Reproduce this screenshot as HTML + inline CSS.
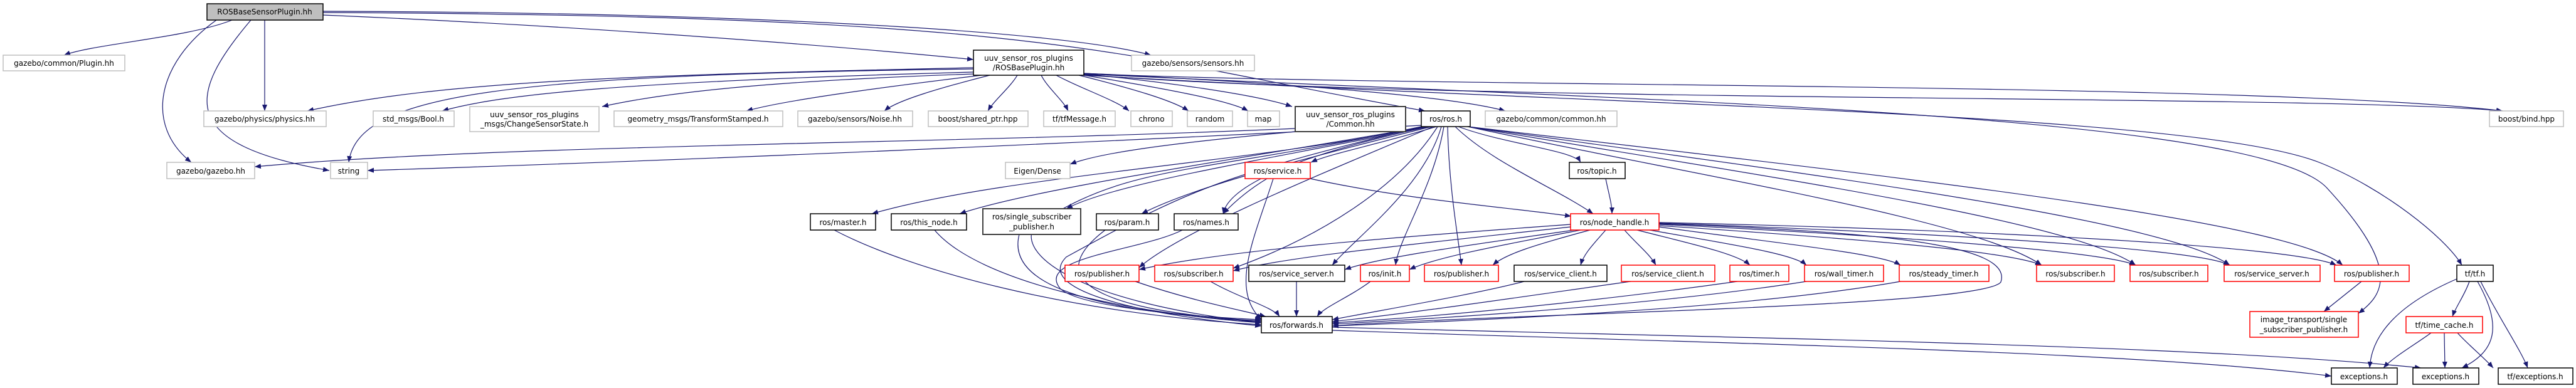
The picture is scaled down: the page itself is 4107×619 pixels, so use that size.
<!DOCTYPE html>
<html><head><meta charset="utf-8"><style>
html,body{margin:0;padding:0;background:#fff;}
svg{display:block;}
text{font-family:"DejaVu Sans","Liberation Sans",sans-serif;font-size:12px;fill:#000;text-anchor:middle;}
.e{fill:none;stroke:#191970;stroke-width:1.2;marker-end:url(#a);}
.g{fill:#fff;stroke:#bfbfbf;stroke-width:1.5;}
.b{fill:#fff;stroke:#000;stroke-width:1.5;}
.d{fill:#fff;stroke:#404040;stroke-width:2;}
.r{fill:#fff;stroke:#ff0000;stroke-width:1.5;}
</style></head><body>
<svg width="4107" height="619" viewBox="0 0 4107 619" xmlns="http://www.w3.org/2000/svg">
<defs><marker id="a" markerUnits="userSpaceOnUse" markerWidth="11" markerHeight="8" refX="10" refY="4" orient="auto"><path d="M0,0 L10,4 L0,8 z" fill="#191970"/></marker></defs>
<g>
<!-- root edges -->
<path class="e" d="M370 32 C300 60,150 70,102 88"/>
<path class="e" d="M422 32 L422 177"/>
<path class="e" d="M345 32 C250 100,230 200,305 259"/>
<path class="e" d="M400 32 C300 150,280 230,525 272"/>
<path class="e" d="M515 24 C900 40,1300 70,1552 95"/>
<path class="e" d="M515 18 C1200 20,1700 50,1835 88"/>
<path class="e" d="M515 20 C1700 25,1780 90,2272 177"/>
<!-- ROSBasePlugin edges -->
<path class="e" d="M1552 108 C1000 120,700 130,490 177"/>
<path class="e" d="M1552 110 C800 120,570 150,556 259"/>
<path class="e" d="M1552 115 C1000 130,800 150,705 177"/>
<path class="e" d="M1552 118 C1200 130,1050 150,960 170"/>
<path class="e" d="M1565 120 C1400 140,1250 160,1190 177"/>
<path class="e" d="M1578 120 C1500 140,1430 160,1410 177"/>
<path class="e" d="M1622 120 C1610 140,1585 160,1575 177"/>
<path class="e" d="M1660 120 C1670 140,1695 160,1703 177"/>
<path class="e" d="M1684 120 C1720 140,1780 160,1800 177"/>
<path class="e" d="M1720 120 C1800 140,1870 160,1895 177"/>
<path class="e" d="M1728 120 C1850 140,1960 160,1990 177"/>
<path class="e" d="M1728 118 C1850 130,2000 150,2060 170"/>
<path class="e" d="M1728 117 C2000 130,2300 150,2400 177"/>
<path class="e" d="M1728 117 C2200 140,3600 130,3990 177"/>
<path class="e" d="M1728 119 C2300 165,3700 150,3990 177"/>
<path class="e" d="M1728 120 C2600 170,3500 180,3700 260 C3800 300,3900 380,3925 423"/>
<path class="e" d="M1728 118 C2600 160,3600 180,3710 300 C3830 430,3800 470,3760 500"/>
<path class="e" d="M2065 205 C1500 230,800 230,406 266"/>
<path class="e" d="M2266 200 C1500 240,900 262,586 272"/>
<path class="e" d="M2065 210 C1850 230,1750 245,1706 262"/>
<!-- ros.h edges -->
<path class="e" d="M2290 202 C2200 230,2120 245,2090 259"/>
<path class="e" d="M2278 202 C2100 240,1960 290,1950 341"/>
<path class="e" d="M2270 202 C2000 260,1600 280,1390 341"/>
<path class="e" d="M2272 202 C2000 250,1650 300,1530 341"/>
<path class="e" d="M2275 202 C2050 250,1780 290,1700 333"/>
<path class="e" d="M2282 202 C2050 260,1900 300,1820 341"/>
<path class="e" d="M2285 202 C2100 280,1880 370,1816 427"/>
<path class="e" d="M2292 202 C2230 300,2100 380,1966 428"/>
<path class="e" d="M2298 202 C2270 300,2160 380,2124 423"/>
<path class="e" d="M2302 202 C2285 300,2230 380,2225 423"/>
<path class="e" d="M2308 202 C2310 300,2325 380,2330 423"/>
<path class="e" d="M2320 202 C2380 260,2480 300,2540 341"/>
<path class="e" d="M2325 202 C2400 230,2510 240,2520 259"/>
<path class="e" d="M2340 202 C2700 280,3150 350,3255 423"/>
<path class="e" d="M2340 202 C2800 280,3300 350,3405 423"/>
<path class="e" d="M2340 202 C2900 280,3450 350,3555 423"/>
<path class="e" d="M2340 202 C3000 280,3650 350,3735 423"/>
<path class="e" d="M2266 202 C1900 280,1800 260,1650 360 C1620 400,1700 480,2011 515"/>
<path class="e" d="M2266 202 C1950 280,1900 300,1700 410 C1650 460,1800 500,2011 520"/>
<!-- service / topic -->
<path class="e" d="M2020 285 C1995 300,1970 320,1950 341"/>
<path class="e" d="M2089 285 C2250 320,2400 330,2505 345"/>
<path class="e" d="M2030 285 C2000 380,1960 460,2011 510"/>
<path class="e" d="M2560 285 C2565 310,2570 325,2570 341"/>
<!-- node_handle edges -->
<path class="e" d="M2504 358 C2200 380,1950 400,1816 430"/>
<path class="e" d="M2504 362 C2250 390,2050 410,1966 432"/>
<path class="e" d="M2510 367 C2350 390,2200 410,2144 430"/>
<path class="e" d="M2520 367 C2400 390,2290 410,2247 430"/>
<path class="e" d="M2535 367 C2450 390,2400 405,2380 423"/>
<path class="e" d="M2560 367 C2540 390,2525 405,2520 423"/>
<path class="e" d="M2590 367 C2610 390,2630 405,2640 423"/>
<path class="e" d="M2610 367 C2700 390,2770 405,2790 423"/>
<path class="e" d="M2630 367 C2760 390,2860 405,2880 423"/>
<path class="e" d="M2645 362 C2850 390,3000 405,3030 423"/>
<path class="e" d="M2645 360 C2950 380,3200 400,3255 423"/>
<path class="e" d="M2645 358 C3000 375,3350 400,3405 423"/>
<path class="e" d="M2645 356 C3050 370,3500 395,3555 423"/>
<path class="e" d="M2645 355 C3100 365,3650 390,3725 423"/>
<path class="e" d="M2645 357 C3000 370,3210 390,3190 450 C3160 490,2400 500,2124 520"/>
<!-- into forwards -->
<path class="e" d="M1330 367 C1450 430,1700 500,2011 518"/>
<path class="e" d="M1490 367 C1560 450,1800 500,2011 515"/>
<path class="e" d="M1625 374 C1600 470,1800 500,2011 513"/>
<path class="e" d="M1762 367 C1640 460,1800 500,2011 512"/>
<path class="e" d="M1885 367 C1820 400,1650 410,1690 460 C1720 490,1900 505,2011 510"/>
<path class="e" d="M1810 449 C1900 480,1980 495,2018 505"/>
<path class="e" d="M1930 449 C1975 475,2030 490,2040 505"/>
<path class="e" d="M2067 449 L2067 505"/>
<path class="e" d="M2185 449 C2150 475,2110 490,2100 505"/>
<path class="e" d="M2430 449 C2350 470,2200 495,2124 510"/>
<path class="e" d="M2600 449 C2450 470,2250 500,2124 513"/>
<path class="e" d="M2770 449 C2550 480,2300 505,2124 515"/>
<path class="e" d="M2880 449 C2650 485,2350 505,2124 517"/>
<path class="e" d="M3030 449 C2800 490,2400 510,2124 520"/>
<!-- bottom -->
<path class="e" d="M2124 527 C2800 550,3400 560,3717 600"/>
<path class="e" d="M2124 522 C2800 540,3500 550,3860 587"/>
<path class="e" d="M3765 449 C3745 465,3720 485,3705 497"/>
<path class="e" d="M3917 445 C3790 500,3780 560,3778 587"/>
<path class="e" d="M3937 449 C3930 470,3915 490,3910 505"/>
<path class="e" d="M3950 449 C3990 520,3980 560,3925 587"/>
<path class="e" d="M3955 449 C3980 500,4020 560,4030 587"/>
<path class="e" d="M3876 531 C3850 550,3815 570,3800 587"/>
<path class="e" d="M3897 531 L3898 587"/>
<path class="e" d="M3918 531 C3935 550,3960 570,3975 587"/>
</g>
<g>
<rect x="330" y="6" width="185" height="26" fill="#bfbfbf" stroke="#000" stroke-width="1.5"/><text x="422" y="23">ROSBaseSensorPlugin.hh</text>
<rect class="g" x="5" y="88" width="194" height="25"/><text x="102" y="105">gazebo/common/Plugin.hh</text>
<rect class="b" x="1552" y="80" width="176" height="40"/><text x="1640" y="97">uuv_sensor_ros_plugins</text><text x="1640" y="112">/ROSBasePlugin.hh</text>
<rect class="g" x="1804" y="88" width="196" height="25"/><text x="1902" y="105">gazebo/sensors/sensors.hh</text>
<rect class="g" x="325" y="177" width="195" height="25"/><text x="422" y="194">gazebo/physics/physics.hh</text>
<rect class="g" x="595" y="177" width="129" height="25"/><text x="659" y="194">std_msgs/Bool.h</text>
<rect class="g" x="749" y="170" width="206" height="40"/><text x="852" y="187">uuv_sensor_ros_plugins</text><text x="852" y="202">_msgs/ChangeSensorState.h</text>
<rect class="g" x="979" y="177" width="269" height="25"/><text x="1113" y="194">geometry_msgs/TransformStamped.h</text>
<rect class="g" x="1272" y="177" width="183" height="25"/><text x="1363" y="194">gazebo/sensors/Noise.hh</text>
<rect class="g" x="1480" y="177" width="159" height="25"/><text x="1559" y="194">boost/shared_ptr.hpp</text>
<rect class="g" x="1664" y="177" width="114" height="25"/><text x="1721" y="194">tf/tfMessage.h</text>
<rect class="g" x="1803" y="177" width="66" height="25"/><text x="1836" y="194">chrono</text>
<rect class="g" x="1893" y="177" width="72" height="25"/><text x="1929" y="194">random</text>
<rect class="g" x="1989" y="177" width="51" height="25"/><text x="2014" y="194">map</text>
<rect class="d" x="2065" y="170" width="176" height="40"/><text x="2153" y="187">uuv_sensor_ros_plugins</text><text x="2153" y="202">/Common.hh</text>
<rect class="b" x="2266" y="177" width="78" height="25"/><text x="2305" y="194">ros/ros.h</text>
<rect class="g" x="2368" y="177" width="210" height="25"/><text x="2473" y="194">gazebo/common/common.hh</text>
<rect class="g" x="3969" y="177" width="118" height="25"/><text x="4028" y="194">boost/bind.hpp</text>
<rect class="g" x="266" y="259" width="140" height="26"/><text x="336" y="277">gazebo/gazebo.hh</text>
<rect class="g" x="527" y="259" width="59" height="26"/><text x="556" y="277">string</text>
<rect class="g" x="1603" y="259" width="103" height="26"/><text x="1654" y="277">Eigen/Dense</text>
<rect class="r" x="1985" y="259" width="104" height="26"/><text x="2037" y="277">ros/service.h</text>
<rect class="b" x="2502" y="259" width="89" height="26"/><text x="2546" y="277">ros/topic.h</text>
<rect class="b" x="1292" y="341" width="104" height="26"/><text x="1344" y="359">ros/master.h</text>
<rect class="b" x="1421" y="341" width="120" height="26"/><text x="1481" y="359">ros/this_node.h</text>
<rect class="d" x="1567" y="333" width="156" height="41"/><text x="1645" y="350">ros/single_subscriber</text><text x="1645" y="366">_publisher.h</text>
<rect class="b" x="1748" y="341" width="99" height="26"/><text x="1797" y="359">ros/param.h</text>
<rect class="b" x="1872" y="341" width="102" height="26"/><text x="1923" y="359">ros/names.h</text>
<rect class="r" x="2504" y="341" width="141" height="26"/><text x="2574" y="359">ros/node_handle.h</text>
<rect class="r" x="1698" y="423" width="118" height="26"/><text x="1757" y="441">ros/publisher.h</text>
<rect class="r" x="1841" y="423" width="125" height="26"/><text x="1903" y="441">ros/subscriber.h</text>
<rect class="b" x="1991" y="423" width="153" height="26"/><text x="2067" y="441">ros/service_server.h</text>
<rect class="r" x="2169" y="423" width="78" height="26"/><text x="2208" y="441">ros/init.h</text>
<rect class="r" x="2271" y="423" width="118" height="26"/><text x="2330" y="441">ros/publisher.h</text>
<rect class="b" x="2414" y="423" width="148" height="26"/><text x="2488" y="441">ros/service_client.h</text>
<rect class="r" x="2585" y="423" width="149" height="26"/><text x="2659" y="441">ros/service_client.h</text>
<rect class="r" x="2758" y="423" width="94" height="26"/><text x="2805" y="441">ros/timer.h</text>
<rect class="r" x="2877" y="423" width="126" height="26"/><text x="2940" y="441">ros/wall_timer.h</text>
<rect class="r" x="3028" y="423" width="143" height="26"/><text x="3099" y="441">ros/steady_timer.h</text>
<rect class="r" x="3247" y="423" width="124" height="26"/><text x="3309" y="441">ros/subscriber.h</text>
<rect class="r" x="3396" y="423" width="124" height="26"/><text x="3458" y="441">ros/subscriber.h</text>
<rect class="r" x="3546" y="423" width="153" height="26"/><text x="3622" y="441">ros/service_server.h</text>
<rect class="r" x="3722" y="423" width="119" height="26"/><text x="3781" y="441">ros/publisher.h</text>
<rect class="b" x="3917" y="423" width="58" height="26"/><text x="3946" y="441">tf/tf.h</text>
<rect class="b" x="2011" y="505" width="113" height="26"/><text x="2067" y="523">ros/forwards.h</text>
<rect class="r" x="3587" y="497" width="173" height="41"/><text x="3673" y="514">image_transport/single</text><text x="3673" y="530">_subscriber_publisher.h</text>
<rect class="r" x="3836" y="505" width="122" height="26"/><text x="3897" y="523">tf/time_cache.h</text>
<rect class="b" x="3717" y="587" width="105" height="26"/><text x="3769" y="605">exceptions.h</text>
<rect class="b" x="3847" y="587" width="105" height="26"/><text x="3899" y="605">exceptions.h</text>
<rect class="b" x="3983" y="587" width="119" height="26"/><text x="4042" y="605">tf/exceptions.h</text>
</g>
</svg>
</body></html>
